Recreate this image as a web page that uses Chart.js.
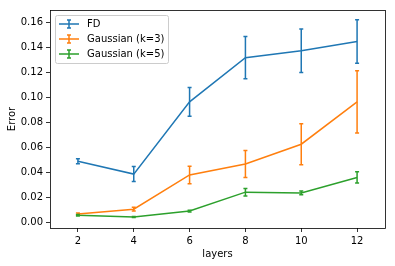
<!DOCTYPE html>
<html>
<head>
<meta charset="utf-8">
<script src="https://cdn.jsdelivr.net/npm/chart.js@4"></script>
<style>
  html, body { margin: 0; padding: 0; background: #fff; }
  #wrap { width: 395px; height: 266px; }
</style>
</head>
<body>
<div id="wrap"><canvas id="errChart" width="395" height="266"></canvas></div>
<script>
// data
const layers = [2, 4, 6, 8, 10, 12];
const fdErr = [0.0488, 0.0385, 0.0965, 0.1320, 0.1375, 0.1450];
const fdStd = [0.0020, 0.0060, 0.0115, 0.0170, 0.0175, 0.0175];
const g3Err = [0.0065, 0.0103, 0.0378, 0.0466, 0.0625, 0.0965];
const g3Std = [0.0008, 0.0015, 0.0070, 0.0108, 0.0165, 0.0250];
const g5Err = [0.0055, 0.0040, 0.0088, 0.0240, 0.0234, 0.0358];
const g5Std = [0.0006, 0.0004, 0.0007, 0.0030, 0.0015, 0.0045];
const xTicks = [2, 4, 6, 8, 10, 12];
const yTicks = [0, 0.02, 0.04, 0.06, 0.08, 0.10, 0.12, 0.14, 0.16];
const seriesNames = ['FD', 'Gaussian (k=3)', 'Gaussian (k=5)'];
const colors = ['#1f77b4', '#ff7f0e', '#2ca02c'];

const means = [fdErr, g3Err, g5Err];
const stds = [fdStd, g3Std, g5Std];

const FONT = 'DejaVu Sans';

function toPoints(vals) {
    return layers.map((x, i) => ({x: x, y: vals[i]}));
}

// error bars drawn through the scales
const errorBars = {
    id: 'errorBars',
    afterDatasetsDraw(chart) {
        const ctx = chart.ctx;
        const xs = chart.scales.x, ys = chart.scales.y;
        ctx.save();
        means.forEach((m, d) => {
            ctx.strokeStyle = colors[d];
            ctx.lineWidth = 1.5;
            layers.forEach((lx, i) => {
                const px = xs.getPixelForValue(lx);
                const top = ys.getPixelForValue(m[i] + stds[d][i]);
                const bot = ys.getPixelForValue(m[i] - stds[d][i]);
                ctx.beginPath();
                ctx.moveTo(px, top); ctx.lineTo(px, bot);
                ctx.moveTo(px - 2, top); ctx.lineTo(px + 2, top);
                ctx.moveTo(px - 2, bot); ctx.lineTo(px + 2, bot);
                ctx.stroke();
            });
        });
        ctx.restore();
    }
};

// spines + matplotlib style legend box
const frameAndLegend = {
    id: 'frameAndLegend',
    afterDraw(chart) {
        const ctx = chart.ctx;
        const a = chart.chartArea;
        ctx.save();
        ctx.strokeStyle = '#000';
        ctx.lineWidth = 0.8;
        ctx.strokeRect(Math.round(a.left) + 0.5, Math.round(a.top) + 0.5,
            Math.round(a.right - a.left), Math.round(a.bottom - a.top));

        // legend
        const bx = 55.5, by = 15.5, bw = 113, bh = 48, r = 2;
        ctx.globalAlpha = 0.8;
        ctx.fillStyle = '#fff';
        ctx.beginPath();
        ctx.roundRect(bx, by, bw, bh, r);
        ctx.fill();
        ctx.globalAlpha = 1;
        ctx.strokeStyle = '#cccccc';
        ctx.lineWidth = 1;
        ctx.stroke();

        ctx.font = '10px "' + FONT + '"';
        ctx.textBaseline = 'middle';
        ctx.fillStyle = '#000';
        seriesNames.forEach((name, i) => {
            const cy = 24 + i * 15;
            ctx.strokeStyle = colors[i];
            ctx.lineWidth = 1.5;
            ctx.beginPath();
            ctx.moveTo(59, cy); ctx.lineTo(79, cy);
            ctx.moveTo(69, cy - 4); ctx.lineTo(69, cy + 4);
            ctx.moveTo(67, cy - 4); ctx.lineTo(71, cy - 4);
            ctx.moveTo(67, cy + 4); ctx.lineTo(71, cy + 4);
            ctx.stroke();
            ctx.fillText(name, 87, cy + 0.5);
        });
        ctx.restore();
    }
};

const errCanvas = document.getElementById('errChart');
const errChart = new Chart(errCanvas, {
    type: 'line',
    data: {
        datasets: seriesNames.map((name, i) => ({
            label: name,
            data: toPoints(means[i]),
            borderColor: colors[i],
            backgroundColor: colors[i],
            borderWidth: 1.5,
            pointRadius: 0,
            fill: false,
            tension: 0
        }))
    },
    options: {
        responsive: false,
        animation: false,
        devicePixelRatio: 1,
        layout: {padding: {left: 0, right: 10, top: 10, bottom: 0}},
        plugins: {
            legend: {display: false},
            tooltip: {enabled: false}
        },
        scales: {
            x: {
                type: 'linear',
                min: 1,
                max: 13,
                afterBuildTicks: s => { s.ticks = xTicks.map(v => ({value: v})); },
                afterFit: s => { s.height = 38; },
                grid: {display: true, drawOnChartArea: false, drawTicks: true, tickLength: 4, color: '#000', lineWidth: 0.8},
                border: {display: false},
                ticks: {color: '#000', font: {family: FONT, size: 10}, padding: 3, maxRotation: 0},
                title: {display: true, text: 'layers', color: '#000', font: {family: FONT, size: 10}, padding: {top: 0, bottom: 6}}
            },
            y: {
                type: 'linear',
                min: -0.0048,
                max: 0.1703,
                afterBuildTicks: s => { s.ticks = yTicks.map(v => ({value: v})); },
                afterFit: s => { s.width = 50; },
                grid: {display: true, drawOnChartArea: false, drawTicks: true, tickLength: 4, color: '#000', lineWidth: 0.8},
                border: {display: false},
                ticks: {color: '#000', font: {family: FONT, size: 10}, padding: 3,
                    callback: v => v.toFixed(2)},
                title: {display: true, text: 'Error', color: '#000', font: {family: FONT, size: 10}, padding: {top: 6, bottom: 0}}
            }
        }
    },
    plugins: [errorBars, frameAndLegend]
});
</script>
</body>
</html>
